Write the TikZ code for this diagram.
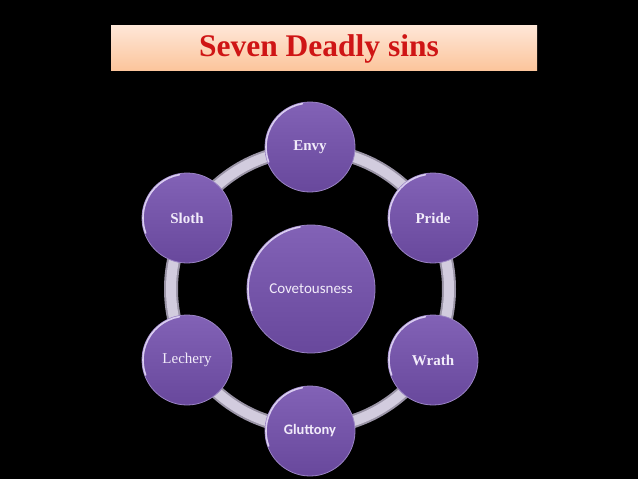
\documentclass[tikz,border=0pt]{standalone}
\usepackage{fontspec}
\setmainfont{Liberation Serif}
\newfontfamily\calib{Carlito}
\usetikzlibrary{shadings}
\definecolor{ringdark}{HTML}{9A94A6}
\definecolor{ringlight}{HTML}{D2CCDE}
\definecolor{purtop}{HTML}{8262B6}
\definecolor{purbot}{HTML}{68489C}
\definecolor{rimlight}{HTML}{D9CDF0}
\definecolor{rimedge}{HTML}{9A84C4}
\definecolor{txt}{HTML}{F2ECFA}
\definecolor{titlered}{HTML}{CF1515}
\definecolor{peachtop}{HTML}{FEE7D8}
\definecolor{peachbot}{HTML}{FCC59C}
\tikzset{
  sin/.style={circle, minimum size=90pt, inner sep=0pt, top color=purtop, bottom color=purbot, draw=rimedge, line width=0.8pt, text=txt, font=\fontsize{14.5}{16}\selectfont},
  core/.style={sin, minimum size=128pt},
  serifbold/.style={font=\rmfamily\bfseries\fontsize{15}{16}\selectfont},
  rim/.style={rimlight, line width=1.6pt, line cap=round}
}
\begin{document}
\begin{tikzpicture}[x=1pt,y=-1pt]
\fill[black] (0,0) rectangle (638,479);
\useasboundingbox (0,0) rectangle (638,479);
% title
\node[draw=none, minimum width=426pt, minimum height=45pt, inner sep=0pt, top color=peachtop, bottom color=peachbot] (title) at (324,47.5) {};
\node[text=titlered, font=\bfseries\fontsize{31.5}{34}\selectfont] (titletext) at (319,49) {Seven Deadly sins};
% ring
\coordinate (hub) at (310,289);
\draw[ringdark, line width=14pt] (hub) circle[radius=139pt];
\draw[ringlight, line width=10pt] (hub) circle[radius=139pt];
% circles
\node[sin, serifbold] (envy) at (310,147) {Envy};
\node[sin, serifbold] (pride) at (433,218) {Pride};
\node[sin, serifbold] (wrath) at (433,360) {Wrath};
\node[sin, font=\calib\bfseries\fontsize{14.5}{16}\selectfont] (glut) at (310,431) {Gluttony};
\node[sin, font=\rmfamily\fontsize{15}{16}\selectfont] (lech) at (187,360) {Lechery};
\node[sin, serifbold] (sloth) at (187,218) {Sloth};
\node[core, font=\calib\fontsize{15}{16}\selectfont] (cov) at (311,289) {Covetousness};
% rim highlights (lower-left)
\foreach \n/\r in {envy/44, pride/44, wrath/44, glut/44, lech/44, sloth/44, cov/63}{
  \draw[rim] ([shift={(100:\r pt)}]\n.center) arc[start angle=100, end angle=200, radius=\r pt];
}
\end{tikzpicture}
\end{document}
